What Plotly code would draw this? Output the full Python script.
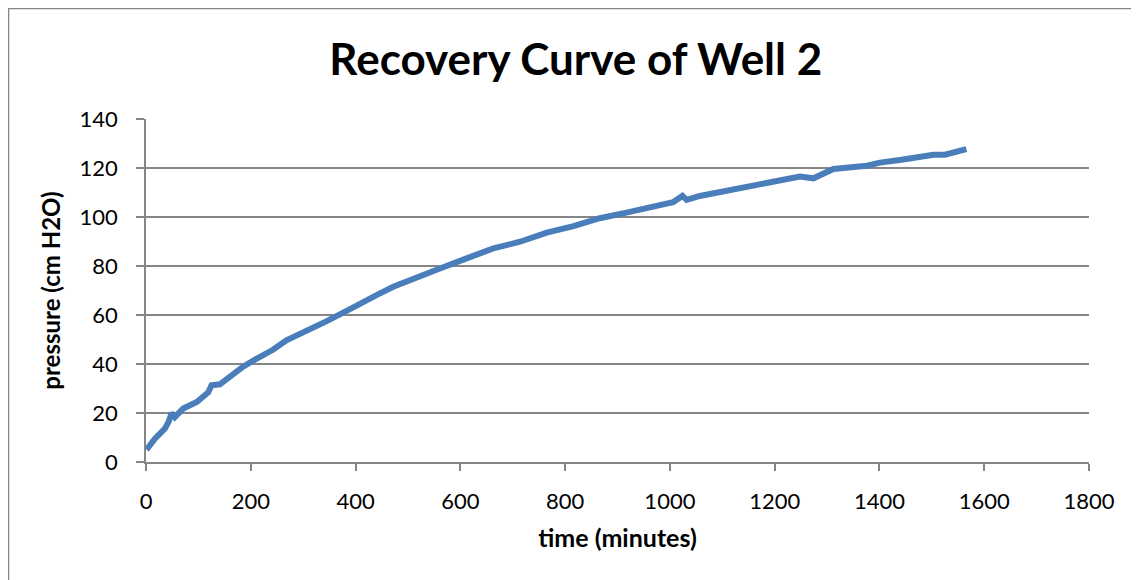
import plotly.graph_objects as go

# values
time_min = [1, 17, 36, 43, 49, 55, 71, 97, 119, 125, 141, 163, 186, 208, 243,
            268, 307, 345, 383, 408, 440, 472, 498, 520, 561, 612, 663, 714,
            765, 816, 866, 917, 968, 1006, 1024, 1032, 1057, 1092, 1121, 1185,
            1248, 1274, 1312, 1376, 1401, 1439, 1503, 1525, 1566]
pressure = [5, 9.5, 13.6, 16.3, 20, 18.3, 21.8, 24.5, 28.5, 31.3, 31.7, 35.4,
            39, 41.8, 45.9, 49.7, 53.5, 57.5, 61.7, 64.7, 68.1, 71.5, 73.5,
            75.2, 79, 83.1, 87.2, 89.9, 93.6, 96.3, 99.5, 101.8, 104.5, 106,
            108.6, 107, 108.6, 110, 111.3, 114, 116.5, 115.8, 119.6, 120.9,
            122.2, 123.3, 125.4, 125.4, 127.7]

x_ticks = list(range(0, 1801, 200))
y_ticks = list(range(0, 141, 20))

FONT = "Lato"
GRID = "#868686"

fig = go.Figure()
fig.add_trace(go.Scatter(x=time_min, y=pressure, mode="lines",
                         line=dict(color="#4a7ebb", width=6),
                         showlegend=False))

# page has an 8px body margin, so the figure is shrunk by 8px
fig.update_layout(
    width=1131, height=572,
    margin=dict(l=138, r=50, t=111, b=118),
    paper_bgcolor="white", plot_bgcolor="white",
    font=dict(family=FONT, color="black", size=22),
    title=dict(text="<b>Recovery Curve of Well 2</b>", x=0.502, xanchor="center",
               y=0.909, yanchor="middle", yref="container",
               font=dict(family=FONT, size=44, color="black")),
)
fig.update_xaxes(range=[0, 1800], tickvals=x_ticks, showgrid=False,
                 showline=True, linecolor=GRID, linewidth=1.5,
                 ticks="outside", ticklen=7, tickcolor=GRID, tickwidth=1.5,
                 ticklabelstandoff=12, zeroline=False,
                 title=dict(text="<b>time (minutes)</b>", standoff=16,
                            font=dict(family=FONT, size=25)))
fig.update_yaxes(range=[0, 140], tickvals=y_ticks, showgrid=True,
                 gridcolor=GRID, gridwidth=1.5,
                 showline=True, linecolor=GRID, linewidth=1.5,
                 ticks="outside", ticklen=8, tickcolor=GRID, tickwidth=1.5,
                 ticklabelstandoff=14, zeroline=False,
                 title=dict(text="<b>pressure (cm H2O)</b>", standoff=12,
                            font=dict(family=FONT, size=24)))

# chart border (Excel chart area frame, cut off at right/bottom)
fig.add_shape(type="rect", xref="paper", yref="paper",
              x0=-0.1458, x1=1.3, y0=-0.7, y1=1.322,
              line=dict(color=GRID, width=1.5), layer="below")

fig.write_html("out.html")
